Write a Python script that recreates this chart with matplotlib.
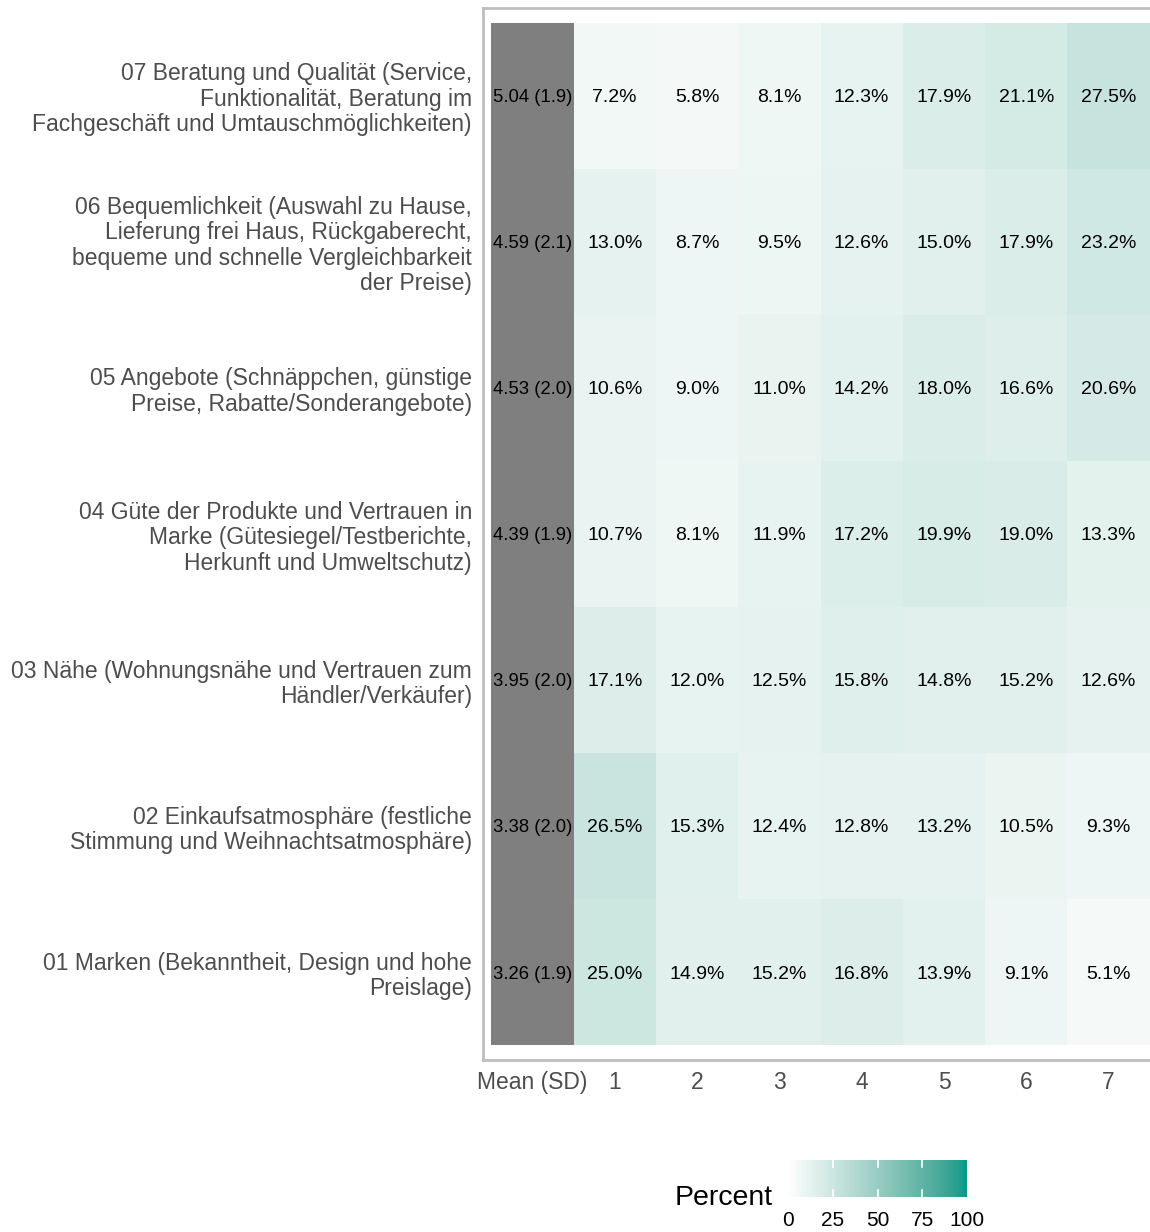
import numpy as np
import matplotlib
matplotlib.use("Agg")
import matplotlib.pyplot as plt
from matplotlib.colors import ListedColormap, to_rgb

plt.rcParams['font.family'] = ['Liberation Sans', 'DejaVu Sans']

# ---------------- data ----------------
items = [
    "01 Marken (Bekanntheit, Design und hohe\nPreislage)",
    "02 Einkaufsatmosphäre (festliche\nStimmung und Weihnachtsatmosphäre)",
    "03 Nähe (Wohnungsnähe und Vertrauen zum\nHändler/Verkäufer)",
    "04 Güte der Produkte und Vertrauen in\nMarke (Gütesiegel/Testberichte,\nHerkunft und Umweltschutz)",
    "05 Angebote (Schnäppchen, günstige\nPreise, Rabatte/Sonderangebote)",
    "06 Bequemlichkeit (Auswahl zu Hause,\nLieferung frei Haus, Rückgaberecht,\nbequeme und schnelle Vergleichbarkeit\nder Preise)",
    "07 Beratung und Qualität (Service,\nFunktionalität, Beratung im\nFachgeschäft und Umtauschmöglichkeiten)",
]
means = [3.26, 3.38, 3.95, 4.39, 4.53, 4.59, 5.04]
sds = [1.9, 2.0, 2.0, 1.9, 2.0, 2.1, 1.9]
scale_points = ["1", "2", "3", "4", "5", "6", "7"]
pct_01 = [25.0, 14.9, 15.2, 16.8, 13.9, 9.1, 5.1]
pct_02 = [26.5, 15.3, 12.4, 12.8, 13.2, 10.5, 9.3]
pct_03 = [17.1, 12.0, 12.5, 15.8, 14.8, 15.2, 12.6]
pct_04 = [10.7, 8.1, 11.9, 17.2, 19.9, 19.0, 13.3]
pct_05 = [10.6, 9.0, 11.0, 14.2, 18.0, 16.6, 20.6]
pct_06 = [13.0, 8.7, 9.5, 12.6, 15.0, 17.9, 23.2]
pct_07 = [7.2, 5.8, 8.1, 12.3, 17.9, 21.1, 27.5]
colorbar_ticks = [0, 25, 50, 75, 100]

pct = np.array([pct_01, pct_02, pct_03, pct_04, pct_05, pct_06, pct_07])

# ---------------- colormap (Lab interpolation white -> teal) ----------------
def srgb_to_lab(c):
    c = np.asarray(c, float)
    lin = np.where(c <= 0.04045, c / 12.92, ((c + 0.055) / 1.055) ** 2.4)
    M = np.array([[0.4124, 0.3576, 0.1805],
                  [0.2126, 0.7152, 0.0722],
                  [0.0193, 0.1192, 0.9505]])
    xyz = M @ lin
    wp = np.array([0.95047, 1.0, 1.08883])
    t = xyz / wp
    f = np.where(t > (6/29) ** 3, np.cbrt(t), t / (3 * (6/29) ** 2) + 4/29)
    return np.array([116 * f[1] - 16, 500 * (f[0] - f[1]), 200 * (f[1] - f[2])])

def lab_to_srgb(lab):
    L, a, b = lab
    fy = (L + 16) / 116
    fx = fy + a / 500
    fz = fy - b / 200
    f = np.array([fx, fy, fz])
    t = np.where(f > 6/29, f ** 3, 3 * (6/29) ** 2 * (f - 4/29))
    wp = np.array([0.95047, 1.0, 1.08883])
    xyz = t * wp
    Minv = np.array([[3.2406, -1.5372, -0.4986],
                     [-0.9689, 1.8758, 0.0415],
                     [0.0557, -0.2040, 1.0570]])
    lin = Minv @ xyz
    lin = np.clip(lin, 0, 1)
    c = np.where(lin <= 0.0031308, 12.92 * lin, 1.055 * lin ** (1/2.4) - 0.055)
    return np.clip(c, 0, 1)

lab_lo = srgb_to_lab(to_rgb("#FFFFFF"))
lab_hi = srgb_to_lab(to_rgb("#009A89"))
cols = [lab_to_srgb(lab_lo + (lab_hi - lab_lo) * s) for s in np.linspace(0, 1, 256)]
cmap = ListedColormap(cols)

# ---------------- figure ----------------
W, H = 1150, 1232
fig = plt.figure(figsize=(W / 100, H / 100), dpi=100)

ax_l, ax_r, ax_t, ax_b = 483, 1158, 8, 1060
ax = fig.add_axes([ax_l / W, 1 - ax_b / H, (ax_r - ax_l) / W, (ax_b - ax_t) / H])

n_rows = len(items)
rows = np.arange(1, n_rows + 1)
xedges = np.arange(0.5, 8.5, 1.0)
yedges = np.arange(0.5, n_rows + 1.5, 1.0)
ax.pcolormesh(xedges, yedges, pct, cmap=cmap, vmin=0, vmax=100, shading='flat')
ax.barh(rows, 1.0, left=-0.5, height=1.0, color="#7F7F7F", linewidth=0)

for i, r in enumerate(rows):
    ax.text(0, r - 0.012, f"{means[i]:.2f} ({sds[i]:.1f})", ha='center', va='center',
            fontsize=13.3, color='black')
    for j in range(7):
        ax.text(j + 1, r - 0.012, f"{pct[i, j]:.1f}%", ha='center', va='center',
                fontsize=14, color='black')

ax.set_xlim(-0.6, 7.6)
ax.set_ylim(0.4, n_rows + 0.6)
ax.set_xticks(range(8))
ax.set_xticklabels(["Mean (SD)"] + scale_points)
ax.set_yticks(rows)
ax.set_yticklabels(items, linespacing=1.14)
ax.tick_params(axis='both', length=0, colors="#4D4D4D", labelsize=16.5)
ax.tick_params(axis='x', pad=8)
ax.tick_params(axis='y', pad=8)
for side in ['left', 'top', 'bottom']:
    ax.spines[side].set_color("#BEBEBE")
    ax.spines[side].set_linewidth(2)
ax.spines['right'].set_visible(False)

# ---------------- colorbar legend ----------------
cb_l, cb_r, cb_t, cb_b = 788, 967, 1160, 1197
cax = fig.add_axes([cb_l / W, 1 - cb_b / H, (cb_r - cb_l) / W, (cb_b - cb_t) / H])
grad = np.linspace(0, 100, 256).reshape(1, -1)
cax.imshow(grad, cmap=cmap, vmin=0, vmax=100, aspect='auto',
           extent=[0, 100, 0, 1])
cax.set_xlim(0, 100)
cax.set_ylim(0, 1)
for t in colorbar_ticks[1:-1]:
    cax.plot([t, t], [0, 0.18], color='white', lw=1.2)
    cax.plot([t, t], [0.82, 1], color='white', lw=1.2)
cax.set_yticks([])
cax.set_xticks(colorbar_ticks)
cax.set_xticklabels([str(t) for t in colorbar_ticks])
cax.tick_params(axis='x', length=0, pad=10, labelsize=15, colors='black')
for s in cax.spines.values():
    s.set_visible(False)
fig.text(773 / W, 1 - 1198 / H, "Percent", ha='right', va='center',
         fontsize=20.5, color='black')

fig.savefig("out.png", dpi=100)
